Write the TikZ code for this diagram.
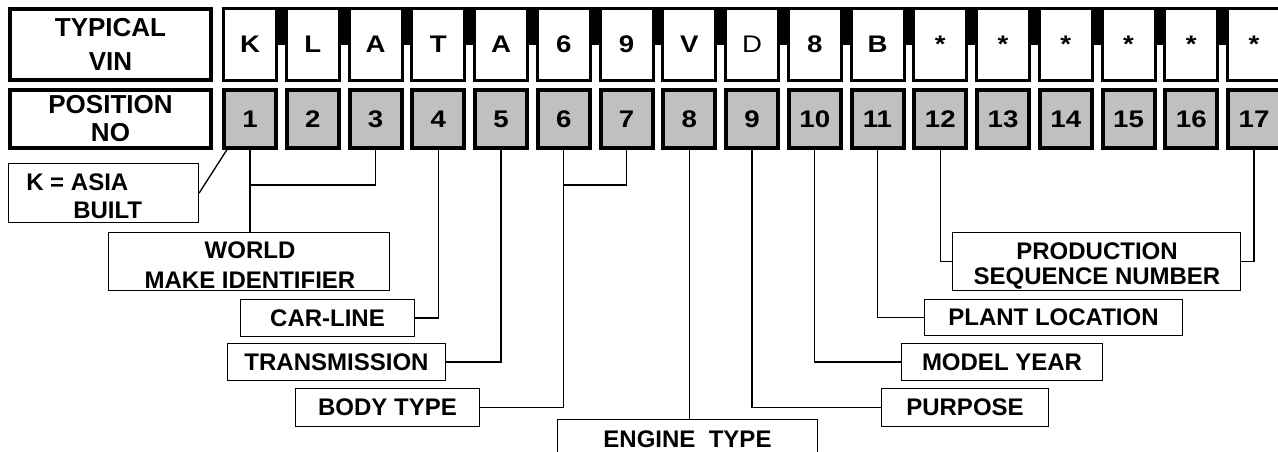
\documentclass[tikz,border=0pt]{standalone}
\usepackage{fontspec}
\setmainfont{Liberation Sans}
\newfontfamily\cellfont[FakeStretch=1.15]{Liberation Sans}
\usetikzlibrary{calc}
\definecolor{cellgray}{HTML}{C0C0C0}
\begin{document}
\begin{tikzpicture}[x=0.75pt,y=-0.75pt,
  hdr/.style={draw,line width=3pt,minimum width=150.75pt,inner sep=0pt,align=center,fill=white},
  vinbox/.style={draw,line width=2.25pt,fill=white,minimum width=39.75pt,minimum height=54pt,inner sep=0pt,font=\cellfont\fontsize{18}{20}\selectfont\bfseries},
  numbox/.style={draw,line width=3pt,fill=cellgray,minimum width=39pt,minimum height=43.5pt,inner sep=0pt,font=\cellfont\fontsize{18}{20}\selectfont\bfseries},
  lab/.style={draw,line width=1pt,inner sep=0pt,align=center,font=\fontsize{18}{22.5}\selectfont\bfseries},
  labtxt/.style={inner sep=0pt,font=\fontsize{18}{22.5}\selectfont\bfseries},
  conn/.style={line width=1pt}]
\useasboundingbox (0,0) rectangle (1278,452);
\fill[white] (0,0) rectangle (1278,452);
% header boxes
\node[hdr,minimum height=53.25pt,font=\fontsize{19.5}{25.5}\selectfont\bfseries] (typ) at (110.5,44.5) {TYPICAL\\VIN};
\node[hdr,minimum height=43.5pt,font=\fontsize{19.5}{21}\selectfont\bfseries] (pos) at (110.5,119) {POSITION\\NO};
% VIN cells and position numbers
\foreach \c [count=\i] in {K,L,A,T,A,6,9,V,{\mdseries D},8,B,*,*,*,*,*,*} {
  \node[vinbox] (v\i) at ({250+62.75*(\i-1)},44.5) {\c};
  \node[numbox] (n\i) at ({250+62.75*(\i-1)},119) {\i};
}
% black blocks between VIN cells
\foreach \i in {1,...,16} {
  \pgfmathtruncatemacro\j{\i+1}
  \fill ($(v\i.north east)+(-2,0)$) rectangle ($(v\j.north west)+(2,38)$);
}
% label boxes
\node[lab,minimum width=142.5pt,minimum height=44.25pt] (kasia) at (103.5,193) {};
\node[labtxt,align=left,anchor=west,font=\fontsize{18}{21.2}\selectfont\bfseries] (kasiat) at (26,196) {K = ASIA\\\hspace*{35.25pt}BUILT};
\node[lab,minimum width=210.75pt,minimum height=43.5pt] (world) at (249,261.5) {};
\node[labtxt,align=center,font=\fontsize{18}{22.5}\selectfont\bfseries] (worldt) at (250,265) {WORLD\\MAKE IDENTIFIER};
\node[lab,minimum width=130.5pt,minimum height=27.75pt] (carline) at (327.5,318) {CAR-LINE};
\node[lab,minimum width=163.5pt,minimum height=27.75pt] (trans) at (336.5,362) {TRANSMISSION};
\node[lab,minimum width=138pt,minimum height=28.5pt] (body) at (387.5,407.5) {BODY TYPE};
\node[lab,minimum width=195pt,minimum height=30pt] (engine) at (687.5,439.5) {ENGINE~~TYPE};
\node[lab,minimum width=125.25pt,minimum height=28.5pt] (purpose) at (965,407.5) {PURPOSE};
\node[lab,minimum width=150.75pt,minimum height=27.75pt] (model) at (1002,362) {MODEL YEAR};
\node[lab,minimum width=193.5pt,minimum height=27pt] (plant) at (1053.5,317.5) {PLANT LOCATION};
\node[lab,minimum width=216pt,minimum height=43.5pt] (prod) at (1096.5,261.5) {};
\node[labtxt,align=center,font=\fontsize{18}{19.1}\selectfont\bfseries] (prodt) at (1097,266) {PRODUCTION\\SEQUENCE NUMBER};
% connectors
\draw[conn] ($(n1.south west)+(6,-2)$) -- (kasia.east);
\draw[conn] (n1.south) -- (n1.south |- world.north);
\coordinate (j1) at ($(n1.south)+(0,35)$);
\draw[conn] (n3.south) |- (j1);
\draw[conn] (n4.south) |- (carline.east);
\draw[conn] (n5.south) |- (trans.east);
\draw[conn] (n6.south) |- (body.east);
\coordinate (j6) at ($(n6.south)+(0,35)$);
\draw[conn] (n7.south) |- (j6);
\draw[conn] (n8.south) -- (n8.south |- engine.north);
\draw[conn] (n9.south) |- (purpose.west);
\draw[conn] (n10.south) |- (model.west);
\draw[conn] (n11.south) |- (plant.west);
\draw[conn] (n12.south) |- (prod.west);
\draw[conn] (n17.south) |- (prod.east);
\end{tikzpicture}
\end{document}
